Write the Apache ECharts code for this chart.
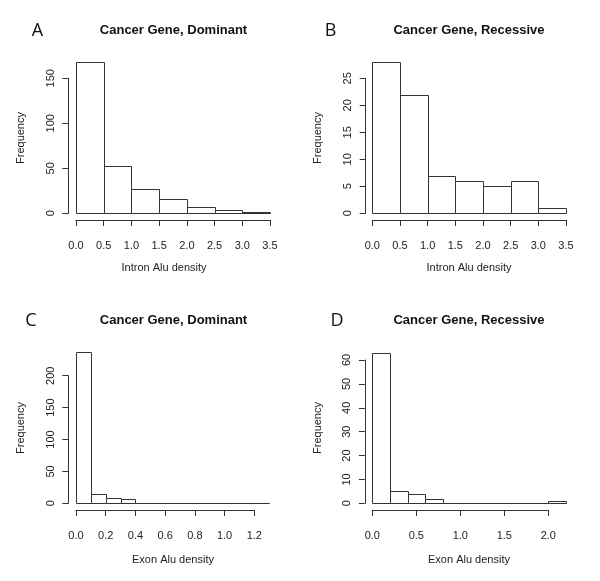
<!DOCTYPE html>
<html><head><meta charset="utf-8">
<script src="https://cdn.jsdelivr.net/npm/echarts@6/dist/echarts.min.js"></script>
<style>html,body{margin:0;padding:0;background:#fff}#c{width:600px;height:581px}</style>
</head><body><div id="c"></div>
<script>
// Panel A: intron Alu density, dominant
const aBreaks = [0, 0.5, 1.0, 1.5, 2.0, 2.5, 3.0, 3.5];
const aCounts = [168, 53, 27, 16, 7, 4, 1];
// Panel B: intron Alu density, recessive
const bBreaks = [0, 0.5, 1.0, 1.5, 2.0, 2.5, 3.0, 3.5];
const bCounts = [28, 22, 7, 6, 5, 6, 1];
// Panel C: exon Alu density, dominant
const cBreaks = [0, 0.1, 0.2, 0.3, 0.4, 0.5, 0.6, 0.7, 0.8, 0.9, 1.0, 1.1, 1.2, 1.3];
const cCounts = [237, 14, 8, 6, 1, 0, 0, 1, 1, 0, 0, 0, 1];
// Panel D: exon Alu density, recessive
const dBreaks = [0, 0.2, 0.4, 0.6, 0.8, 1.0, 1.2, 1.4, 1.6, 1.8, 2.0, 2.2];
const dCounts = [63, 5, 4, 2, 0, 0, 0, 0, 0, 0, 1];

const panelLetters = ['A', 'B', 'C', 'D'];
const panelTitles = ['Cancer Gene, Dominant', 'Cancer Gene, Recessive', 'Cancer Gene, Dominant', 'Cancer Gene, Recessive'];
const xNames = ['Intron Alu density', 'Intron Alu density', 'Exon Alu density', 'Exon Alu density'];
const yName = 'Frequency';
// axis tick settings (min, max, interval)
const xTicks = [[0, 3.5, 0.5], [0, 3.5, 0.5], [0, 1.2, 0.2], [0, 2.0, 0.5]];
const yTicks = [[0, 150, 50], [0, 25, 5], [0, 200, 50], [0, 60, 10]];

const breaksList = [aBreaks, bBreaks, cBreaks, dBreaks];
const countsList = [aCounts, bCounts, cCounts, dCounts];

// layout
const grids = [
  {left: 76, top: 78.3, width: 194, height: 135},
  {left: 372.3, top: 78.3, width: 193.7, height: 135},
  {left: 76, top: 375.7, width: 178.3, height: 127.6},
  {left: 372.3, top: 360, width: 176, height: 143.3}
];
const yOffsets = [7.7, 6.6, 7.7, 7.5];
const titlePos = [[173.5, 30], [469, 30], [173.5, 320], [469, 320]];
const letterPos = [[37.5, 31], [330.5, 31], [31, 321], [337, 321]];
const xNamePos = [[164, 268], [469, 268], [173, 560], [469, 560]];
const yNamePos = [[21, 138], [318, 138], [21, 428], [318, 428]];

const FONT = 'Liberation Sans, Arial, Helvetica, sans-serif';
const LINE = '#333';
const TEXT = '#222';

const xAxis = [], yAxis = [], series = [], graphic = [];
for (let i = 0; i < 4; i++) {
  xAxis.push({
    gridIndex: i, type: 'value', min: xTicks[i][0], max: xTicks[i][1], interval: xTicks[i][2],
    offset: 6.7,
    axisLine: {show: true, onZero: false, lineStyle: {color: LINE, width: 1}},
    axisTick: {show: true, length: 6, lineStyle: {color: LINE, width: 1}},
    axisLabel: {margin: 20, fontSize: 11, color: TEXT, fontFamily: FONT,
      formatter: v => v.toFixed(1)},
    splitLine: {show: false}
  });
  yAxis.push({
    gridIndex: i, type: 'value', min: yTicks[i][0], max: yTicks[i][1], interval: yTicks[i][2],
    offset: yOffsets[i],
    axisLine: {show: true, onZero: false, lineStyle: {color: LINE, width: 1}},
    axisTick: {show: true, length: 6, lineStyle: {color: LINE, width: 1}},
    axisLabel: {rotate: 90, margin: 12, fontSize: 11, color: TEXT, fontFamily: FONT},
    splitLine: {show: false}
  });
  const br = breaksList[i], ct = countsList[i];
  const data = ct.map((c, k) => [br[k], br[k + 1], c]);
  series.push({
    type: 'custom', xAxisIndex: i, yAxisIndex: i, clip: false,
    encode: {x: [0, 1], y: 2},
    data: data,
    renderItem: function (params, api) {
      const p0 = api.coord([api.value(0), 0]);
      const p1 = api.coord([api.value(1), api.value(2)]);
      const x0 = Math.round(p0[0]) + 0.5, x1 = Math.round(p1[0]) + 0.5;
      const yb = Math.round(p0[1]) + 0.5, yt = Math.round(p1[1]) + 0.5;
      return {
        type: 'rect',
        shape: {x: x0, y: yt, width: x1 - x0, height: yb - yt},
        style: {fill: '#fff', stroke: LINE, lineWidth: 1}
      };
    }
  });
  graphic.push({type: 'text', x: titlePos[i][0], y: titlePos[i][1],
    style: {text: panelTitles[i], font: 'bold 13px ' + FONT, fill: '#111', textAlign: 'center', textVerticalAlign: 'middle'}});
  graphic.push({type: 'text', x: letterPos[i][0], y: letterPos[i][1],
    style: {text: panelLetters[i], font: '18px "Open Sans", sans-serif', fill: '#111', textAlign: 'center', textVerticalAlign: 'middle'}});
  graphic.push({type: 'text', x: xNamePos[i][0], y: xNamePos[i][1],
    style: {text: xNames[i], font: '11px ' + FONT, fill: TEXT, textAlign: 'center', textVerticalAlign: 'middle'}});
  graphic.push({type: 'text', x: yNamePos[i][0], y: yNamePos[i][1], rotation: Math.PI / 2,
    style: {text: yName, font: '11px ' + FONT, fill: TEXT, textAlign: 'center', textVerticalAlign: 'middle'}});
}

const chart = echarts.init(document.getElementById('c'), null, {renderer: 'canvas'});
chart.setOption({
  animation: false,
  backgroundColor: '#fff',
  grid: grids,
  xAxis: xAxis,
  yAxis: yAxis,
  series: series,
  graphic: graphic
});
</script></body></html>
